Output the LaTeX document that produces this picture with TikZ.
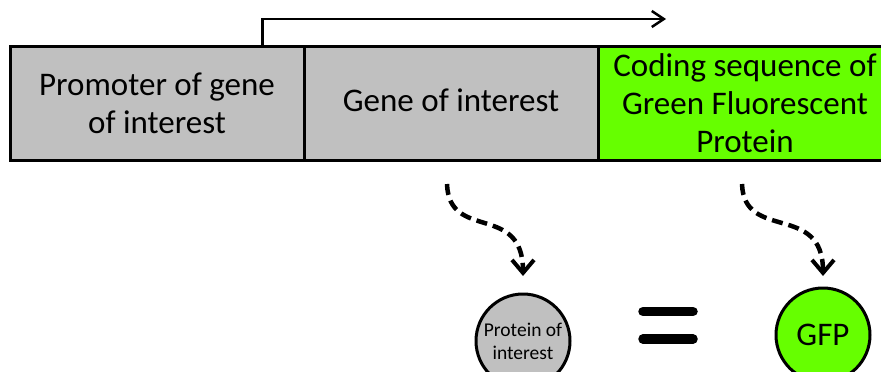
\documentclass[tikz,border=0pt]{standalone}
\usepackage{fontspec}
\setmainfont{Carlito}
\usepackage{tikz}
\usetikzlibrary{arrows.meta,positioning}
\definecolor{genegray}{RGB}{192,192,192}
\definecolor{gfpgreen}{RGB}{102,255,0}

\begin{document}
\begin{tikzpicture}[x=1pt, y=-1pt,
    part/.style={draw, line width=3pt, outer sep=0pt, inner sep=0pt,
      minimum width=294pt, minimum height=114pt, align=center,
      font=\fontsize{33}{38}\selectfont},
    product/.style={draw, circle, line width=3pt, outer sep=0pt, inner sep=0pt,
      minimum size=94pt, align=center},
    expr/.style={line width=4.5pt, dash pattern=on 11pt off 6pt,
      -{Straight Barb[length=13pt,width=22pt,line width=4pt]}}]
  \path[use as bounding box, clip] (0,0) rectangle (881,372);
  % the construct
  \node[part, fill=genegray] (promoter) at (157,103) {Promoter of gene\\of interest};
  \node[part, fill=genegray, right=0pt of promoter] (gene) {\raisebox{6pt}{Gene of interest}};
  \node[part, fill=gfpgreen, right=0pt of gene] (coding) {Coding sequence of\\Green Fluorescent\\Protein};
  % transcription start
  \coordinate (tss) at (666,19);
  \draw[line width=2.5pt, -{Straight Barb[length=12pt,width=16pt]}]
    ([xshift=105.5pt]promoter.north) |- (tss);
  % products
  \node[product, fill=genegray, font=\fontsize{19.5}{23}\selectfont] (poi) at (523,341) {Protein of\\interest};
  \node[product, fill=gfpgreen, font=\fontsize{33}{38}\selectfont] (gfp) at (823,335) {GFP};
  \draw[expr] ([shift={(-4pt,-24pt)}]gene.south) .. controls +(2,58) and +(0,-74) .. ([yshift=18pt]poi.north);
  \draw[expr] ([shift={(-3pt,-24pt)}]coding.south) .. controls +(2,58) and +(0,-74) .. ([yshift=12pt]gfp.north);
  % equals sign
  \draw[line width=9.5pt, line cap=round] (643,311.5) -- (693,311.5);
  \draw[line width=9.5pt, line cap=round] (643,339) -- (693,339);
\end{tikzpicture}
\end{document}
